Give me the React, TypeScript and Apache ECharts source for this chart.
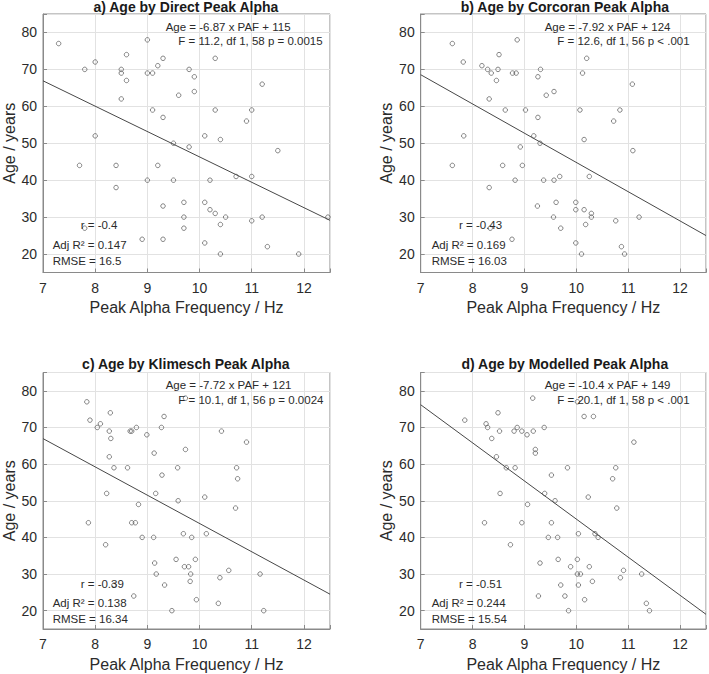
import React, { useEffect, useRef } from 'react';
import * as echarts from 'echarts';

// ---------- data ----------
const titles = [
  'a) Age by Direct Peak Alpha',
  'b) Age by Corcoran Peak Alpha',
  'c) Age by Klimesch Peak Alpha',
  'd) Age by Modelled Peak Alpha',
];
const xTickLabels = [7, 8, 9, 10, 11, 12];
const yTickLabels = [20, 30, 40, 50, 60, 70, 80];
const xName = 'Peak Alpha Frequency / Hz';
const yName = 'Age / years';

const slopes = [-6.87, -7.92, -7.72, -10.4];
const intercepts = [115, 124, 121, 149];
const eqTexts = [
  'Age = -6.87 x PAF + 115',
  'Age = -7.92 x PAF + 124',
  'Age = -7.72 x PAF + 121',
  'Age = -10.4 x PAF + 149',
];
const fTexts = [
  'F = 11.2, df 1, 58 p = 0.0015',
  'F = 12.6, df 1, 56 p < .001',
  'F = 10.1, df 1, 56 p = 0.0024',
  'F = 20.1, df 1, 58 p < .001',
];
const rTexts = ['r = -0.4', 'r = -0.43', 'r = -0.39', 'r = -0.51'];
const r2Texts = ['Adj R\u00B2 = 0.147', 'Adj R\u00B2 = 0.169', 'Adj R\u00B2 = 0.138', 'Adj R\u00B2 = 0.244'];
const rmseTexts = ['RMSE = 16.5', 'RMSE = 16.03', 'RMSE = 16.34', 'RMSE = 15.54'];

const directPAF = [
  [7.3, 77], [7.8, 70], [7.7, 44], [8.0, 72], [8.0, 52], [8.4, 44], [8.4, 38], [8.5, 70], [8.5, 69], [8.5, 62],
  [8.6, 74], [8.6, 67], [9.0, 78], [9.0, 69], [9.1, 69], [9.2, 71], [9.3, 73], [9.1, 59], [9.3, 57], [9.2, 44],
  [9.0, 40], [8.9, 24], [9.3, 33], [9.3, 24], [9.5, 50], [9.5, 40], [9.6, 63], [9.8, 70], [9.9, 68], [9.9, 64],
  [9.8, 49], [9.7, 34], [9.7, 30], [9.7, 27], [10.1, 52], [10.1, 34], [10.2, 32], [10.3, 31], [10.2, 40], [10.1, 23],
  [10.3, 73], [10.3, 59], [10.4, 51], [10.4, 28], [10.4, 20], [10.5, 30], [10.7, 41], [10.9, 56], [11.0, 59], [11.0, 41],
  [11.0, 29], [11.2, 66], [11.2, 30], [11.3, 22], [11.5, 48], [11.9, 20], [12.46, 30], [7.8, 27],
];
const corcoranPAF = [
  [7.61, 77], [7.61, 44], [7.82, 72], [7.83, 52], [8.18, 71], [8.29, 70], [8.36, 69], [8.32, 62], [8.32, 38], [8.34, 27],
  [8.49, 70], [8.51, 74], [8.46, 67], [8.58, 44], [8.63, 59], [8.77, 69], [8.84, 69], [8.86, 78], [8.82, 40], [8.76, 24],
  [8.92, 49], [8.96, 44], [9.02, 59], [9.18, 52], [9.26, 68], [9.31, 70], [9.26, 57], [9.30, 50], [9.25, 33], [9.37, 40],
  [9.42, 63], [9.57, 64], [9.57, 40], [9.61, 34], [9.56, 30], [9.68, 41], [9.70, 27], [9.99, 34], [9.99, 32], [9.99, 23],
  [10.07, 59], [10.12, 69], [10.15, 51], [10.15, 32], [10.10, 20], [10.18, 28], [10.20, 73], [10.25, 41], [10.29, 31], [10.29, 30],
  [10.72, 56], [10.84, 59], [10.76, 29], [11.08, 66], [11.09, 48], [10.87, 22], [10.93, 20], [11.21, 30],
];
const klimeschPAF = [
  [7.84, 77], [7.90, 72], [7.87, 44], [8.04, 70], [8.10, 71], [8.29, 74], [8.27, 69], [8.30, 67], [8.27, 62], [8.36, 59],
  [8.22, 52], [8.20, 38], [8.36, 27], [8.62, 59], [8.67, 69], [8.70, 69], [8.79, 70], [8.83, 49], [8.70, 44], [8.77, 44],
  [8.90, 40], [8.74, 24], [8.99, 68], [9.13, 63], [9.27, 70], [9.32, 73], [9.28, 57], [9.16, 52], [9.12, 40], [9.14, 33],
  [9.17, 30], [9.33, 27], [9.47, 20], [9.55, 34], [9.58, 59], [9.59, 50], [9.73, 64], [9.69, 41], [9.71, 32], [9.79, 32],
  [9.85, 40], [9.83, 30], [9.82, 28], [9.92, 34], [9.94, 23], [10.10, 51], [10.13, 41], [10.42, 69], [10.39, 29], [10.36, 22],
  [10.56, 31], [10.71, 59], [10.73, 56], [10.69, 48], [10.90, 66], [11.16, 30], [11.23, 20], [9.73, 78],
];
const modelledPAF = [
  [7.85, 72], [8.23, 44], [8.26, 71], [8.29, 70], [8.37, 67], [8.49, 74], [8.52, 69], [8.46, 62], [8.65, 59], [8.53, 52],
  [8.73, 38], [8.80, 69], [8.86, 70], [8.82, 59], [8.95, 69], [8.95, 44], [9.05, 68], [9.06, 49], [9.16, 78], [9.17, 69],
  [9.21, 64], [9.21, 63], [9.27, 24], [9.30, 33], [9.38, 70], [9.39, 52], [9.46, 40], [9.52, 57], [9.52, 44], [9.59, 50],
  [9.65, 34], [9.64, 40], [9.70, 27], [9.78, 24], [9.83, 59], [9.85, 20], [9.89, 32], [10.02, 34], [10.02, 30], [10.08, 30],
  [10.04, 41], [10.04, 27], [10.02, 77], [10.15, 73], [10.16, 23], [10.23, 51], [10.25, 32], [10.31, 28], [10.33, 73], [10.36, 41],
  [10.42, 40], [10.70, 56], [10.76, 59], [10.78, 48], [10.85, 29], [10.91, 31], [11.11, 66], [11.26, 30], [11.35, 22], [11.41, 20],
];
const panelData = [directPAF, corcoranPAF, klimeschPAF, modelledPAF];

const X_MIN = 7;
const X_MAX = 12.5;
const Y_MIN = 15;
const Y_MAX = 85;

// ---------- layout ----------
const FONT = '"Liberation Sans", Arial, Helvetica, sans-serif';
const TEXT = '#2b2b2b';
const gridLeft = [41.7, 420.7, 41.7, 420.7];
const gridTop = [14, 14, 372.5, 372.5];
const gridW = 288.3;
const gridH = [258.5, 258.5, 256.5, 256.5];
const titleTop = [0, 0, 356.5, 356.5];

function buildOption() {
  const grids: any[] = [];
  const xAxes: any[] = [];
  const yAxes: any[] = [];
  const series: any[] = [];
  const titleList: any[] = [];
  const graphics: any[] = [];

  const xFmt = (v: number) => (xTickLabels.indexOf(v) >= 0 ? String(v) : '');
  const yFmt = (v: number) => (yTickLabels.indexOf(v) >= 0 ? String(v) : '');

  for (let i = 0; i < 4; i++) {
    const L = gridLeft[i];
    const T = gridTop[i];
    grids.push({
      left: L,
      top: T,
      width: gridW,
      height: gridH[i],
      show: true,
      backgroundColor: '#ffffff',
      borderColor: '#8a8a8a',
      borderWidth: 1,
      containLabel: false,
    });
    xAxes.push({
      gridIndex: i,
      type: 'value',
      min: X_MIN,
      max: X_MAX,
      interval: 1,
      axisLine: { show: true, onZero: false, lineStyle: { color: '#8a8a8a', width: 1 } },
      axisTick: { show: true, inside: true, length: 4, lineStyle: { color: '#8a8a8a' } },
      axisLabel: { fontSize: 14, color: TEXT, margin: 8, fontFamily: FONT, formatter: xFmt },
      splitLine: { show: true, lineStyle: { color: '#e2e2e2', width: 1 } },
      name: xName,
      nameLocation: 'middle',
      nameGap: 27,
      nameTextStyle: { fontSize: 16, color: TEXT, fontFamily: FONT },
    });
    yAxes.push({
      gridIndex: i,
      type: 'value',
      min: Y_MIN,
      max: Y_MAX,
      splitNumber: 7,
      axisLine: { show: true, onZero: false, lineStyle: { color: '#8a8a8a', width: 1 } },
      axisTick: { show: true, inside: true, length: 4, lineStyle: { color: '#8a8a8a' } },
      axisLabel: { fontSize: 14, color: TEXT, margin: 6, fontFamily: FONT, formatter: yFmt },
      splitLine: { show: true, lineStyle: { color: '#e2e2e2', width: 1 } },
      name: yName,
      nameLocation: 'middle',
      nameGap: 26,
      nameTextStyle: { fontSize: 16, color: TEXT, fontFamily: FONT },
    });
    series.push({
      type: 'line',
      xAxisIndex: i,
      yAxisIndex: i,
      data: [
        [X_MIN, slopes[i] * X_MIN + intercepts[i]],
        [X_MAX, slopes[i] * X_MAX + intercepts[i]],
      ],
      symbol: 'none',
      silent: true,
      lineStyle: { color: '#474747', width: 1 },
      z: 2,
    });
    series.push({
      type: 'scatter',
      xAxisIndex: i,
      yAxisIndex: i,
      data: panelData[i],
      symbol: 'circle',
      symbolSize: 4.5,
      silent: true,
      itemStyle: { color: 'rgba(255,255,255,0)', borderColor: '#555555', borderWidth: 0.9 },
      z: 3,
    });
    titleList.push({
      text: titles[i],
      left: L + gridW / 2,
      top: titleTop[i],
      textAlign: 'center',
      padding: 0,
      textStyle: { fontSize: 14, fontWeight: 'bold', color: '#1a1a1a', fontFamily: FONT, lineHeight: 14 },
    });
    const txt = (s: string, x: number, y: number) => ({
      type: 'text',
      x: L + x,
      y: T + y,
      z: 10,
      silent: true,
      style: { text: s, fontSize: 11.5, fontFamily: FONT, fill: TEXT, verticalAlign: 'middle', align: 'left' },
    });
    graphics.push(txt(eqTexts[i], 124, 12.5));
    graphics.push(txt(fTexts[i], 136.6, 27.3));
    graphics.push(txt(rTexts[i], i % 2 === 0 ? 39 : 38.3, 211));
    graphics.push(txt(r2Texts[i], 11, 230.5));
    graphics.push(txt(rmseTexts[i], 11, 246.5));
  }

  return {
    animation: false,
    backgroundColor: '#ffffff',
    title: titleList,
    grid: grids,
    xAxis: xAxes,
    yAxis: yAxes,
    series,
    graphic: graphics,
  };
}

export default function App() {
  const ref = useRef<HTMLDivElement>(null);
  useEffect(() => {
    if (!ref.current) return;
    const chart = echarts.init(ref.current, null, { renderer: 'svg' });
    chart.setOption(buildOption() as any);
    return () => chart.dispose();
  }, []);
  return (
    <div
      ref={ref}
      style={{ position: 'absolute', left: 0, top: 0, width: 709, height: 674, background: '#fff' }}
    />
  );
}
